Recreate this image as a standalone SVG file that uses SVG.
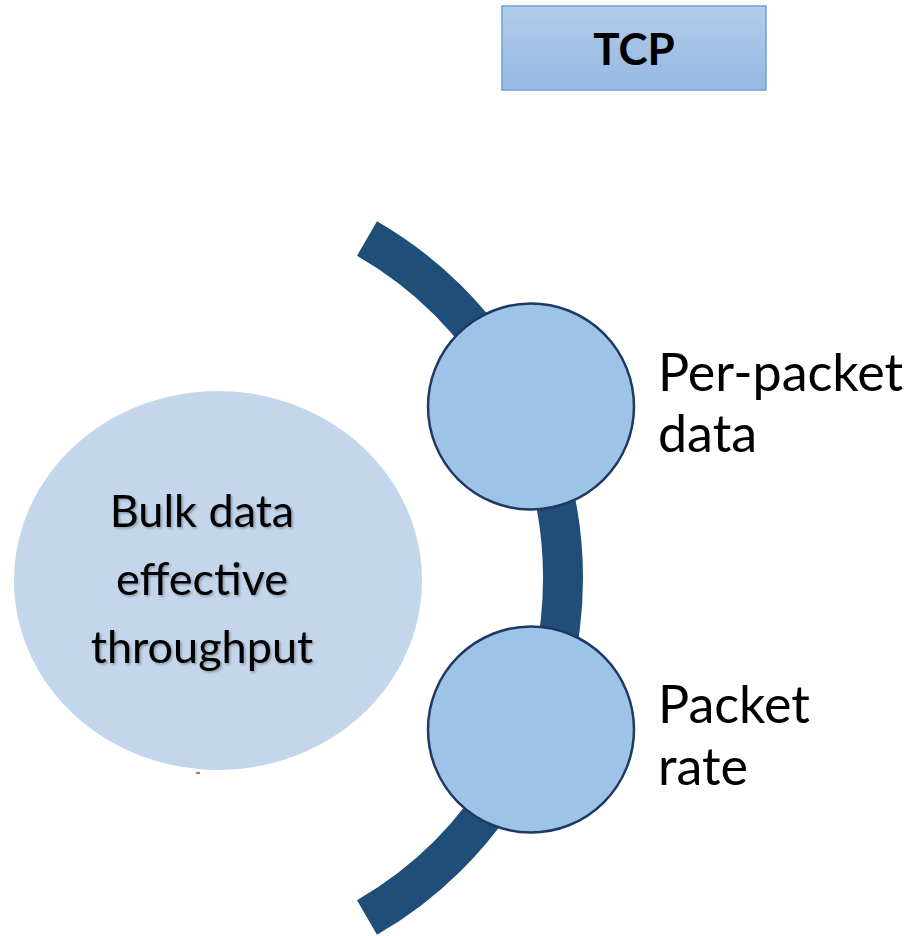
<svg xmlns="http://www.w3.org/2000/svg" width="920" height="936" viewBox="0 0 920 936">
<defs>
<linearGradient id="g" x1="0" y1="0" x2="0" y2="1"><stop offset="0" stop-color="#B2CCEB"/><stop offset="1" stop-color="#96B8E2"/></linearGradient>
<filter id="sh" x="-10%" y="-10%" width="120%" height="130%"><feDropShadow dx="1.5" dy="1.5" stdDeviation="1" flood-color="#000" flood-opacity="0.3"/></filter>
</defs>
<style>
text{font-family:Lato,"Open Sans","Liberation Sans",sans-serif;fill:#000}
.lbl{font-size:52px}
.big{font-size:45px;text-anchor:middle}
.node{fill:#9DC3E6;stroke:#1F3864;stroke-width:2.5}
</style>
<g id="connectors">
<path d="M367,238.5 A392,392 0 0 1 367,917.5" fill="none" stroke="#1F4E79" stroke-width="40"/>
</g>
<g id="tcp">
<rect x="502" y="6" width="264" height="84" fill="url(#g)" stroke="#6FA0DC" stroke-width="1.5"/>
<text x="634" y="65" font-size="44" font-weight="bold" text-anchor="middle">TCP</text>
</g>
<g id="bulk">
<ellipse cx="218" cy="580.5" rx="204" ry="189.5" fill="#C4D6EC"/>
<rect x="196" y="772" width="4" height="2" fill="#C0784A"/>
<g filter="url(#sh)">
<text class="big" x="202" y="527">Bulk data</text>
<text class="big" x="202" y="595">effective</text>
<text class="big" x="202" y="663">throughput</text>
</g>
</g>
<g id="per-packet">
<circle class="node" cx="531" cy="406.5" r="103"/>
<text class="lbl" x="658" y="391">Per-packet</text>
<text class="lbl" x="658" y="452">data</text>
</g>
<g id="packet-rate">
<circle class="node" cx="531" cy="729.5" r="103"/>
<text class="lbl" x="658" y="723">Packet</text>
<text class="lbl" x="658" y="785">rate</text>
</g>
</svg>
